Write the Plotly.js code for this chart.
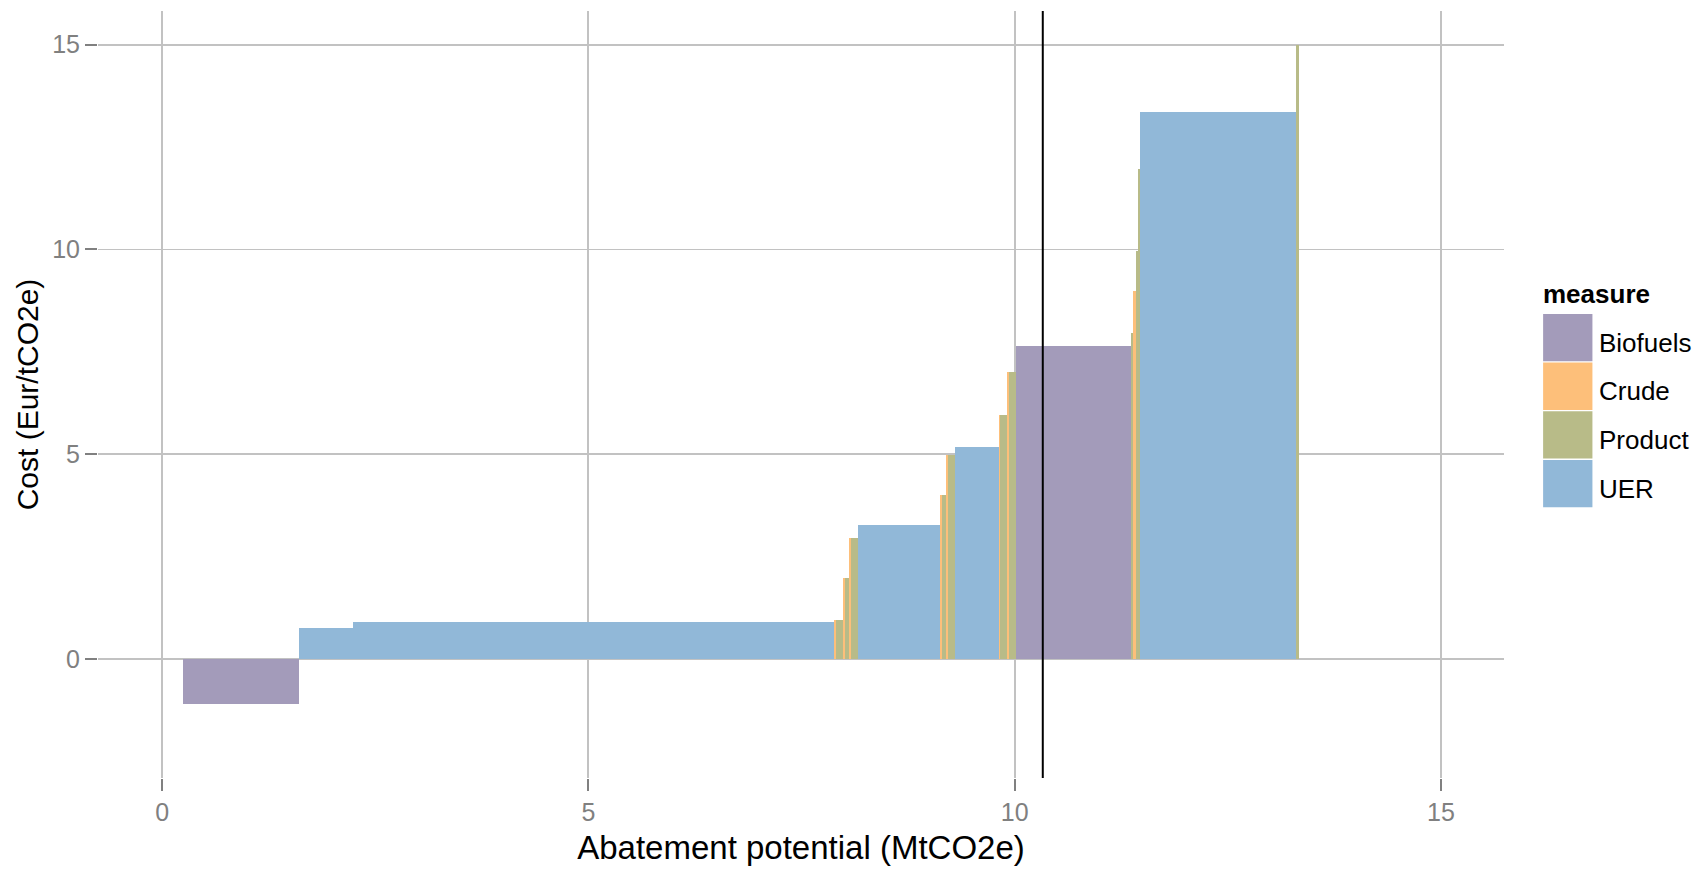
<!DOCTYPE html>
<html>
<head>
<meta charset="utf-8">
<script src="https://cdn.plot.ly/plotly-3.0.1.min.js"></script>
<style>html,body{margin:0;padding:0;background:#fff;}#chart{width:1706px;height:873px;}</style>
</head>
<body>
<div id="chart"></div>
<script>
// ---- data ----
const measureNames = ['Biofuels', 'Crude', 'Product', 'UER'];
const xStart = [0.245, 1.606, 2.240, 7.878, 7.910, 7.981, 8.005, 8.052, 8.076, 8.158, 9.119, 9.142, 9.189, 9.213, 9.295, 9.811, 9.834, 9.905, 9.928, 10.011, 11.360, 11.383, 11.419, 11.442, 11.466, 13.300];
const xEnd   = [1.606, 2.240, 7.878, 7.910, 7.981, 8.005, 8.052, 8.076, 8.158, 9.119, 9.142, 9.189, 9.213, 9.295, 9.811, 9.834, 9.905, 9.928, 10.011, 11.360, 11.383, 11.419, 11.442, 11.466, 13.300, 13.330];
const cost   = [-1.10, 0.76, 0.91, 0.96, 0.96, 1.98, 1.98, 2.96, 2.96, 3.28, 4.00, 4.00, 4.98, 4.98, 5.18, 5.96, 5.96, 7.00, 7.00, 7.65, 7.96, 8.99, 9.96, 11.96, 13.35, 15.00];
const measure = ['Biofuels', 'UER', 'UER', 'Crude', 'Product', 'Crude', 'Product', 'Crude', 'Product', 'UER', 'Crude', 'Product', 'Crude', 'Product', 'UER', 'Crude', 'Product', 'Crude', 'Product', 'Biofuels', 'Product', 'Crude', 'Product', 'Product', 'UER', 'Product'];
const vlineX = [10.33];
const xTicks = [0, 5, 10, 15];
const yTicks = [0, 5, 10, 15];

// ---- styles ----
const colors = {Biofuels: '#a39bba', Crude: '#fdbf7a', Product: '#b8bb88', UER: '#91b8d8'};
const FONT = 'Liberation Sans, Arial, Helvetica, sans-serif';
const W = 1706, H = 873;
const plotL = 98, plotR = 1503.6, plotT = 11, plotB = 778.3;

const traces = measureNames.map(m => {
  const idx = measure.map((v, i) => v === m ? i : -1).filter(i => i >= 0);
  return {
    type: 'bar',
    name: m,
    x: idx.map(i => (xStart[i] + xEnd[i]) / 2),
    width: idx.map(i => xEnd[i] - xStart[i]),
    y: idx.map(i => cost[i]),
    marker: {color: colors[m], line: {width: 0}},
    showlegend: false,
    hoverinfo: 'skip'
  };
});

// custom ggplot-like legend
const px2x = p => (p - plotL) / (plotR - plotL);
const px2y = p => (plotB - p) / (plotB - plotT);
const keyX0 = 1542.7, keyX1 = 1592, keyTop = 314, keyH = 48.7;
const shapes = [];
const annotations = [];
measureNames.forEach((m, k) => {
  const t = keyTop + k * keyH, b = t + keyH - 1.3;
  shapes.push({type: 'rect', xref: 'paper', yref: 'paper', x0: px2x(keyX0), x1: px2x(keyX1),
    y0: px2y(b), y1: px2y(t), fillcolor: colors[m], line: {width: 0}, layer: 'above'});
  annotations.push({xref: 'paper', yref: 'paper', x: px2x(1597), y: px2y((t + b) / 2 + 5),
    xanchor: 'left', yanchor: 'middle', showarrow: false, text: m,
    font: {family: FONT, size: 26, color: '#000'}});
});
annotations.push({xref: 'paper', yref: 'paper', x: px2x(1541), y: px2y(294),
  xanchor: 'left', yanchor: 'middle', showarrow: false, text: '<b>measure</b>',
  font: {family: FONT, size: 26, color: '#000'}});

vlineX.forEach(v => shapes.push({type: 'line', xref: 'x', yref: 'paper', x0: v, x1: v, y0: 0, y1: 1,
  line: {color: '#000', width: 2}, layer: 'above'}));

const layout = {
  width: W, height: H, autosize: false,
  margin: {l: plotL, r: W - plotR, t: plotT, b: H - plotB, pad: 0},
  paper_bgcolor: '#fff', plot_bgcolor: '#fff',
  barmode: 'overlay', bargap: 0,
  font: {family: FONT},
  xaxis: {
    range: [-0.752, 15.74], tickvals: xTicks, ticktext: xTicks.map(String),
    showgrid: true, gridcolor: '#c2c2c2', gridwidth: 1.8, zeroline: false, showline: false,
    ticks: 'outside', ticklen: 12, tickwidth: 2, tickcolor: '#808080',
    tickfont: {family: FONT, size: 25, color: '#808080'},
    title: {text: 'Abatement potential (MtCO2e)', font: {family: FONT, size: 33, color: '#000'}, standoff: 10},
    automargin: false, fixedrange: true
  },
  yaxis: {
    range: [-2.9, 15.82], tickvals: yTicks, ticktext: yTicks.map(String),
    showgrid: true, gridcolor: '#c2c2c2', gridwidth: 1.8, zeroline: false, showline: false,
    ticks: 'outside', ticklen: 12, tickwidth: 2, tickcolor: '#808080',
    tickfont: {family: FONT, size: 25, color: '#808080'},
    title: {text: 'Cost (Eur/tCO2e)', font: {family: FONT, size: 30, color: '#000'}, standoff: 4},
    automargin: false, fixedrange: true
  },
  shapes: shapes,
  annotations: annotations,
  showlegend: false,
  hovermode: false
};

Plotly.newPlot('chart', traces, layout, {displayModeBar: false, staticPlot: true});
</script>
</body>
</html>
